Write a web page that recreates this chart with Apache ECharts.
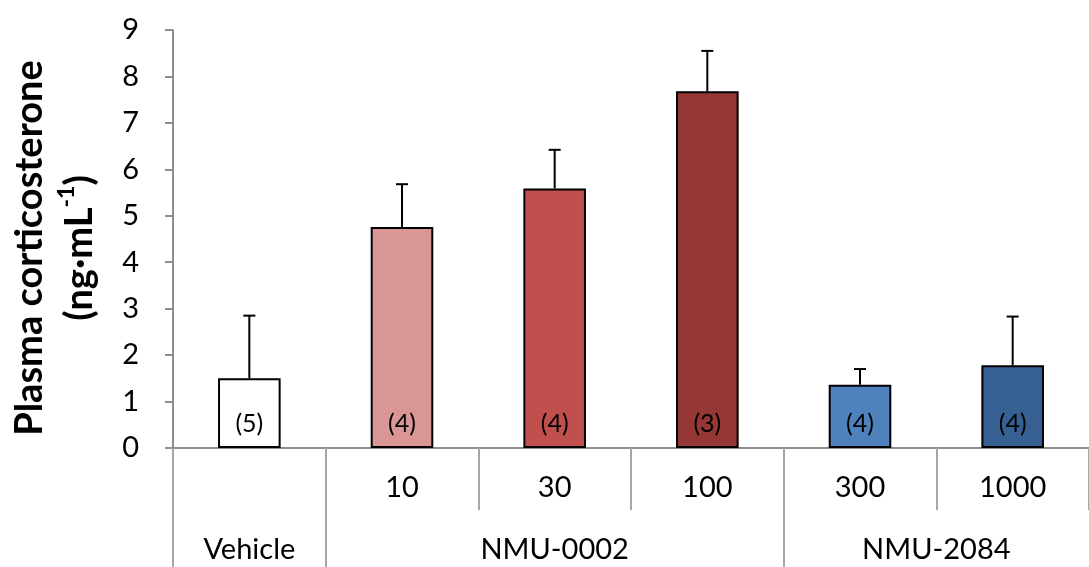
<!DOCTYPE html>
<html>
<head>
<meta charset="utf-8">
<script src="https://cdn.jsdelivr.net/npm/echarts@6/dist/echarts.min.js"></script>
<style>
  html, body { margin: 0; padding: 0; background: #fff; }
  #chart { width: 1089px; height: 567px; }
</style>
</head>
<body>
<div id="chart"></div>
<script>
// Dose labels (first row under the axis) and treatment groups (second row)
const doseLabels = ['', '10', '30', '100', '300', '1000'];
const groupNames = ['Vehicle', 'NMU-0002', 'NMU-2084'];
const groupCenters = [0.5, 2.5, 5];      // in category units along the axis
const groupBounds = [0, 1, 4];           // long separators between groups

// Plasma corticosterone, mean and SEM (ng/mL), with group sizes
const meanValues = [1.5, 4.76, 5.59, 7.68, 1.36, 1.78];
const semValues = [1.35, 0.92, 0.83, 0.87, 0.34, 1.05];
const groupSizes = [5, 4, 4, 3, 4, 4];

const barColors = ['#ffffff', '#d99694', '#c0504d', '#953735', '#4f81bd', '#376092'];
const yTicks = { min: 0, max: 9, step: 1 };

const FONT = 'Lato, "Open Sans", sans-serif';
const AXIS_GRAY = '#8e8e8e';

const chart = echarts.init(document.getElementById('chart'), null, { renderer: 'canvas' });

const option = {
  animation: false,
  backgroundColor: '#ffffff',
  grid: { left: 173, top: 30, width: 929, height: 418 },
  xAxis: [
    {
      type: 'category',
      data: doseLabels,
      axisLine: { lineStyle: { color: AXIS_GRAY, width: 2 } },
      axisTick: { show: true, interval: 0, length: 62, lineStyle: { color: '#a6a6a6', width: 2 } },
      axisLabel: { interval: 0, fontFamily: FONT, fontSize: 29, color: '#000', margin: 25 },
      splitLine: { show: false }
    },
    {
      type: 'value',
      min: 0,
      max: doseLabels.length,
      position: 'bottom',
      axisLine: { show: false },
      splitLine: { show: false },
      axisTick: {
        show: true,
        customValues: groupBounds,
        length: 125,
        lineStyle: { color: '#a6a6a6', width: 2 }
      },
      axisLabel: {
        customValues: groupCenters,
        fontFamily: FONT, fontSize: 29, color: '#000', margin: 87,
        formatter: function (v) {
          const i = groupCenters.indexOf(v);
          return i >= 0 ? groupNames[i] : '';
        }
      }
    }
  ],
  yAxis: {
    type: 'value',
    min: yTicks.min,
    max: yTicks.max,
    interval: yTicks.step,
    axisLine: { show: true, lineStyle: { color: AXIS_GRAY, width: 2 } },
    axisTick: { show: true, length: 8, lineStyle: { color: AXIS_GRAY, width: 2 } },
    axisLabel: { fontFamily: FONT, fontSize: 29, color: '#000', margin: 34 },
    splitLine: { show: false },
    name: '{t|Plasma corticosterone}\n{t|(ng·mL}{s|-1}{t|)}',
    nameLocation: 'middle',
    nameRotate: 90,
    nameGap: 68,
    nameTextStyle: {
      fontFamily: FONT,
      fontWeight: 'bold',
      color: '#000',
      padding: [0, 18, 0, 0],
      rich: {
        t: { fontFamily: FONT, fontWeight: 'bold', fontSize: 38, lineHeight: 50, color: '#000' },
        s: { fontFamily: FONT, fontWeight: 'bold', fontSize: 23, lineHeight: 40, verticalAlign: 'top', color: '#000' }
      }
    }
  },
  series: [
    {
      type: 'bar',
      barWidth: '41%',
      data: meanValues.map((v, i) => ({
        value: v,
        itemStyle: { color: barColors[i], borderColor: '#000', borderWidth: 2 }
      })),
      label: {
        show: true,
        position: 'insideBottom',
        distance: 12,
        fontFamily: FONT,
        fontSize: 25,
        color: '#000',
        formatter: p => '(' + groupSizes[p.dataIndex] + ')'
      },
      z: 2
    },
    {
      // upward SEM whiskers with caps
      type: 'custom',
      data: meanValues.map((v, i) => [i, v, v + semValues[i]]),
      encode: { x: 0, y: [1, 2] },
      renderItem: function (params, api) {
        const x = api.value(0);
        const base = api.coord([x, api.value(1)]);
        const top = api.coord([x, api.value(2)]);
        const half = 6;
        const style = { stroke: '#000', lineWidth: 2 };
        return {
          type: 'group',
          children: [
            { type: 'line', shape: { x1: base[0], y1: base[1], x2: top[0], y2: top[1] }, style: style },
            { type: 'line', shape: { x1: top[0] - half, y1: top[1], x2: top[0] + half, y2: top[1] }, style: style }
          ]
        };
      },
      z: 3
    }
  ]
};

chart.setOption(option);
</script>
</body>
</html>
